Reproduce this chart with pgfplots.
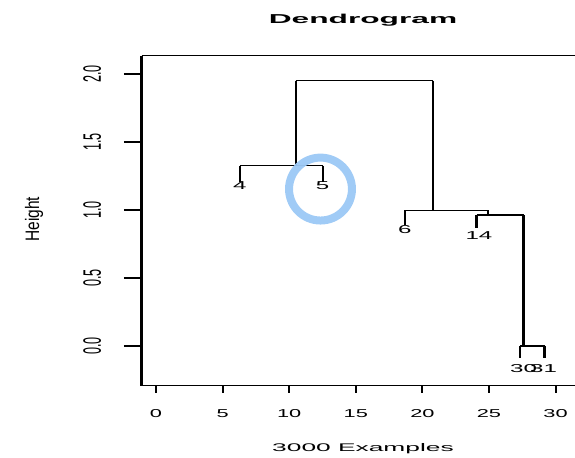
\documentclass[border=0pt]{standalone}
\usepackage{fontspec}
\setmainfont{Liberation Sans}
\usepackage{graphicx}
\usepackage{pgfplots}
\pgfplotsset{compat=1.18}
\definecolor{ringblue}{RGB}{155,200,245}
\newcommand\sx[1]{\scalebox{1.9}[1]{#1}}
\newcommand\sy[1]{\scalebox{1.1}[2.2]{#1}}
\newcommand\lf[1]{\scalebox{2.1}[1]{#1}}
\begin{document}
\begin{tikzpicture}
\begin{axis}[
  scale only axis, width=336.2pt, height=247.5pt,
  xmin=-1.074, xmax=32.58, ymin=-0.292, ymax=2.1346,
  separate axis lines,
  x axis line style={line width=1.1pt},
  y axis line style={line width=2.2pt},
  xtick={0,5,10,15,20,25,30},
  xticklabels={\sx{0},\sx{5},\sx{10},\sx{15},\sx{20},\sx{25},\sx{30}},
  ytick={0,0.5,1,1.5,2},
  yticklabels={\sy{0.0},\sy{0.5},\sy{1.0},\sy{1.5},\sy{2.0}},
  xtick pos=bottom, ytick pos=left, tick align=outside,
  x tick style={line width=1.6pt, black, /pgfplots/major tick length=5.3pt},
  y tick style={line width=1.0pt, black, /pgfplots/major tick length=13.3pt},
  tick label style={font=\fontsize{8.6}{10}\selectfont},
  xticklabel style={anchor=center, yshift=-16.3pt},
  yticklabel style={rotate=90, anchor=center, yshift=32.8pt},
  title={\scalebox{2.45}[1]{Dendrogram}},
  title style={font=\bfseries\fontsize{9.7}{11}\selectfont, at={(axis description cs:0.4937,1.082)}, anchor=center},
  xlabel={\scalebox{2.38}[1]{3000 Examples}},
  xlabel style={font=\fontsize{8.3}{10}\selectfont, at={(axis description cs:0.4937,-0.192)}, anchor=center},
  ylabel={\scalebox{1.35}[1.7]{Height}},
  ylabel style={font=\fontsize{8.6}{10}\selectfont, at={(axis description cs:-0.2402,0.505)}, anchor=center},
  unbounded coords=jump,
]
% horizontal segments
\addplot[black, line width=0.9pt, mark=none] coordinates {
  (10.49,1.951) (20.77,1.951) (nan,nan)
  (6.3,1.326) (12.51,1.326) (nan,nan)
  (18.69,0.998) (24.95,0.998) (nan,nan)
  (24.08,0.963) (27.65,0.963) (nan,nan)
  (27.33,0.0) (29.2,0.0)
};
% vertical segments
\addplot[black, line width=1.4pt, mark=none] coordinates {
  (10.49,1.951) (10.49,1.326) (nan,nan)
  (20.77,1.951) (20.77,0.998) (nan,nan)
  (6.3,1.326) (6.3,1.208) (nan,nan)
  (12.51,1.326) (12.51,1.208) (nan,nan)
  (18.69,0.998) (18.69,0.89) (nan,nan)
  (24.95,0.998) (24.95,0.963) (nan,nan)
  (27.33,0.0) (27.33,-0.09)
};
% thick vertical segments
\addplot[black, line width=2.2pt, mark=none] coordinates {
  (24.08,0.963) (24.08,0.865) (nan,nan)
  (27.6,0.963) (27.6,0.0) (nan,nan)
  (29.2,0.0) (29.2,-0.09)
};
% leaf labels
\addplot[draw=none, mark=none, point meta=explicit symbolic,
  nodes near coords={\lf{\pgfplotspointmeta}},
  nodes near coords style={anchor=center, inner sep=0pt, font=\fontsize{8.6}{10}\selectfont}]
  table[meta=label] {
x y label
6.3 1.178 4
12.51 1.178 5
18.69 0.853 6
24.25 0.811 14
27.6 -0.164 30
29.1 -0.164 31
};
% highlight ring
\addplot[only marks, mark=o, mark size=23.6pt,
  mark options={line width=6pt, draw=ringblue, opacity=0.95}] coordinates {(12.35,1.154)};
\end{axis}
\pgfresetboundingbox
\path (-106.3pt,-54.2pt) rectangle (325pt,289.3pt);
\end{tikzpicture}
\end{document}
